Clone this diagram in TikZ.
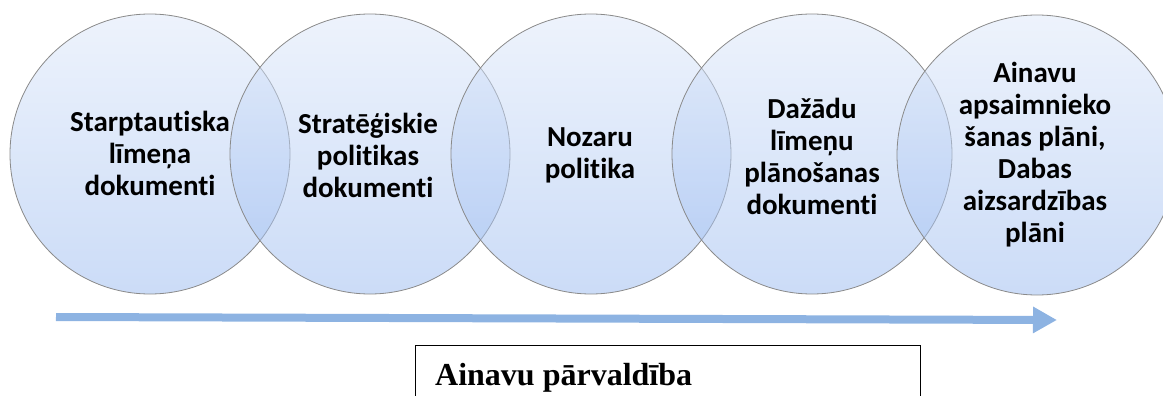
\documentclass[tikz,border=0pt]{standalone}
\usepackage{fontspec}
\setmainfont{Liberation Serif}
\newfontfamily\calib[Ligatures=NoCommon]{Carlito}
\usetikzlibrary{arrows.meta}
\definecolor{arrowblue}{HTML}{8DB3E2}
\definecolor{ctop}{HTML}{DCE7F9}
\definecolor{cbot}{HTML}{98B9F0}
\definecolor{cedge}{HTML}{8A8A8A}
\begin{document}
\begin{tikzpicture}[x=1pt,y=-1pt,
  venn/.style={circle, minimum size=280pt, inner sep=0pt, draw=cedge, line width=0.8pt,
    top color=ctop, bottom color=cbot, fill opacity=0.5, draw opacity=1},
  lbl/.style={font=\calib\bfseries\fontsize{29}{32}\selectfont, align=center, text=black, inner sep=0pt},
  flow/.style={draw=arrowblue, line width=8pt, -{Triangle[length=24pt,width=25pt,fill=arrowblue]}},
  titlebox/.style={draw=black, line width=1.3pt, minimum width=505pt, minimum height=80pt, inner sep=0pt, anchor=north west},
  boxtext/.style={anchor=base west, font=\bfseries\fontsize{32}{38}\selectfont, inner sep=0pt}]
\useasboundingbox (0,0) rectangle (1163,396);
\clip (0,0) rectangle (1163,396);
\node[venn] (c1) at (150,154) {};
\node[venn] (c2) at (370,154) {};
\node[venn] (c3) at (591,154) {};
\node[venn] (c4) at (812,154) {};
\node[venn] (c5) at (1037,155) {};
\node[lbl] (t1) at (150,153) {Starptautiska\\līmeņa\\dokumenti};
\node[lbl] (t2) at (368,155) {Stratēģiskie\\politikas\\dokumenti};
\node[lbl] (t3) at (590,155) {Nozaru\\politika};
\node[lbl] (t4) at (812,156) {Dažādu\\līmeņu\\plānošanas\\dokumenti};
\node[lbl] (t5) at (1035,155) {Ainavu\\apsaimnieko\\šanas plāni,\\Dabas\\aizsardzības\\plāni};
\coordinate (as) at (56,317);
\coordinate (ae) at (1057,320);
\draw[flow] (as) -- (ae);
\node[titlebox] (box) at (415,345) {};
\node[boxtext] (boxt) at (435,385) {Ainavu pārvaldība};
\end{tikzpicture}
\end{document}
